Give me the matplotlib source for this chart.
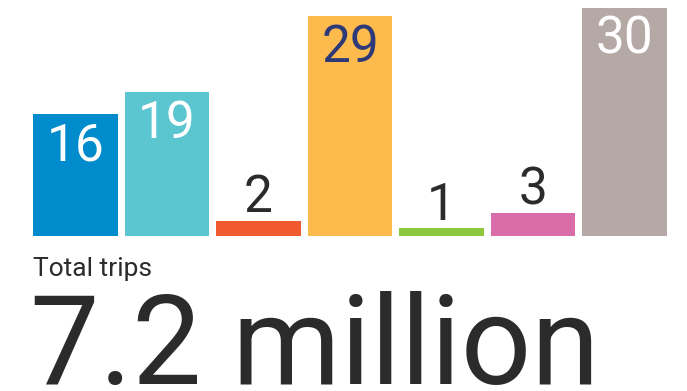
import numpy as np
import matplotlib.pyplot as plt

values = [16, 19, 2, 29, 1, 3, 30]
colors = ['#008BCC', '#5BC5D0', '#F15A2F', '#FDBA4D', '#8DC63F', '#DA6DA9', '#B4A9A5']
label_colors = ['white', 'white', '#2b2b2b', '#2E3A78', '#2b2b2b', '#2b2b2b', 'white']
title = 'Total trips'
total = '7.2 million'

plt.rcParams['font.family'] = ['Roboto', 'DejaVu Sans']

fig = plt.figure(figsize=(6.87, 3.91), dpi=100)
w = 0.925
ax = fig.add_axes([33/687, 1-236/391, (667-33)/687, (236-8)/391])
x = np.arange(len(values))
ax.bar(x, values, width=w, color=colors)
ax.set_xlim(-w/2, len(values)-1+w/2)
ax.set_ylim(0, 30)
ax.axis('off')

for xi, v, lc in zip(x, values, label_colors):
    if v >= 10:
        ax.annotate(str(v), (xi, v), xytext=(0, -5), textcoords='offset points',
                    ha='center', va='top', fontsize=37, color=lc)
    else:
        ax.annotate(str(v), (xi, v), xytext=(0, 6), textcoords='offset points',
                    ha='center', va='baseline', fontsize=37, color=lc)

fig.text(33/687, 1-276/391, title, fontsize=19, color='#2b2b2b', va='baseline', ha='left')
fig.text(30/687, 1-384/391, total, fontsize=89, color='#2b2b2b', va='baseline', ha='left')

fig.savefig('out.png', dpi=100)
